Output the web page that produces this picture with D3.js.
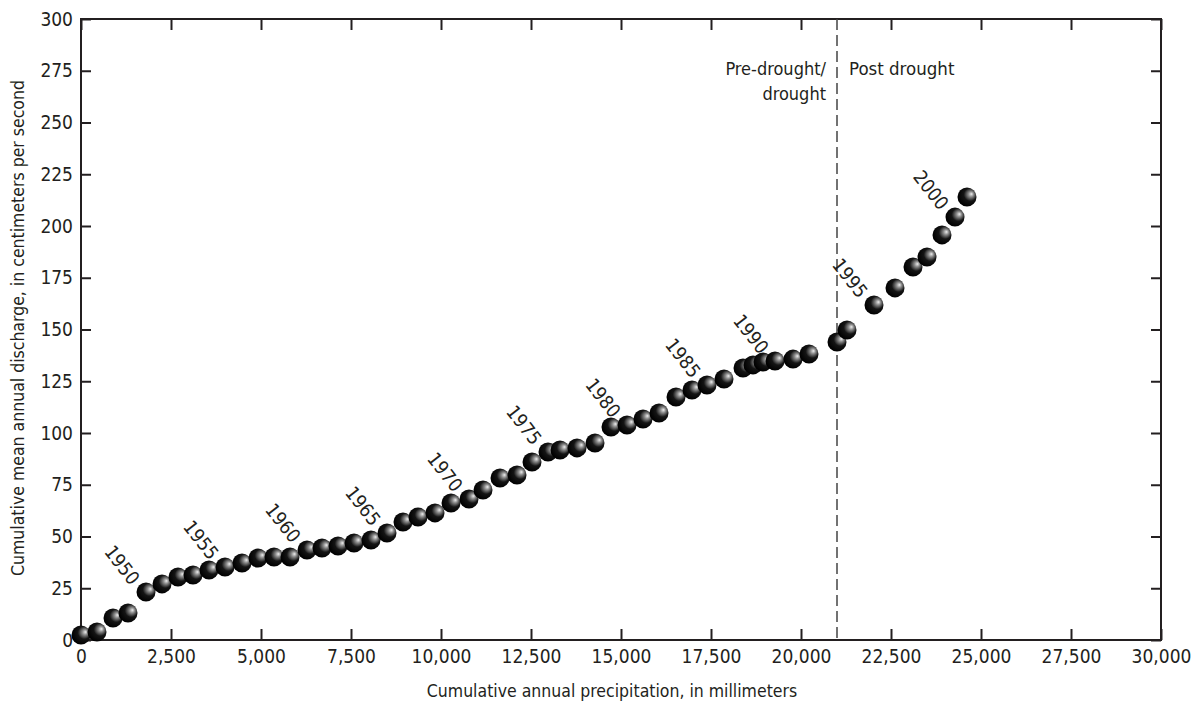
<!DOCTYPE html>
<html>
<head>
<meta charset="utf-8">
<script src="https://cdn.jsdelivr.net/npm/d3@7"></script>
<style>
  body { margin: 0; background: #fff; }
  svg text { font-family: "Liberation Sans Narrow", "DejaVu Sans Condensed", sans-serif; fill: #231f20; }
</style>
</head>
<body>
<script>
// cumulative annual precipitation (mm) and cumulative mean annual discharge, 1946-2001
const years = d3.range(1946, 2002);
const precip = [0, 444, 889, 1306, 1806, 2250, 2694, 3111, 3556, 4000,
  4472, 4917, 5361, 5806, 6278, 6694, 7139, 7583, 8056, 8500,
  8944, 9361, 9833, 10278, 10778, 11167, 11639, 12111, 12528, 12972,
  13306, 13778, 14278, 14722, 15167, 15611, 16056, 16528, 16972, 17389,
  17861, 18389, 18667, 18944, 19278, 19778, 20222, 21000, 21278, 22028,
  22611, 23111, 23500, 23917, 24278, 24611];
const discharge = [2.4, 3.9, 10.6, 13.0, 23.2, 27.1, 30.4, 31.4, 33.8, 35.3,
  37.2, 39.6, 40.1, 40.1, 43.5, 44.4, 45.4, 46.9, 48.3, 51.7,
  57.0, 59.4, 61.4, 66.2, 68.1, 72.5, 78.3, 79.7, 86.0, 90.8,
  91.8, 92.8, 95.2, 102.9, 103.9, 106.8, 109.7, 117.4, 120.8, 123.2,
  126.1, 131.4, 132.9, 134.3, 134.8, 135.7, 138.2, 144.0, 149.8, 161.8,
  170.1, 180.2, 185.0, 195.7, 204.3, 214.0];
const labelYears = [1950, 1955, 1960, 1965, 1970, 1975, 1980, 1985, 1990, 1995, 2000];
const droughtBreak = 21000;
const xTicks = d3.range(0, 30001, 2500);
const yTicks = d3.range(0, 301, 25);

const width = 1200, height = 704;
const margin = { top: 19, right: 39, bottom: 64, left: 81 };

const svg = d3.select('body').append('svg')
  .attr('width', width)
  .attr('height', height);

// dark ball marker with a soft highlight upper right
const grad = svg.append('defs').append('radialGradient')
  .attr('id', 'ball')
  .attr('cx', '0.62').attr('cy', '0.4').attr('r', '0.62')
  .attr('fx', '0.74').attr('fy', '0.34');
grad.append('stop').attr('offset', '0%').attr('stop-color', '#ededed');
grad.append('stop').attr('offset', '22%').attr('stop-color', '#8c8c8c');
grad.append('stop').attr('offset', '55%').attr('stop-color', '#141414');
grad.append('stop').attr('offset', '100%').attr('stop-color', '#000');

const x = d3.scaleLinear().domain([0, 30000]).range([margin.left, width - margin.right]);
const y = d3.scaleLinear().domain([0, 300]).range([height - margin.bottom, margin.top]);

// axes, ticks pointing inward on all four sides
svg.append('g')
  .attr('transform', `translate(0,${y(0)})`)
  .call(d3.axisBottom(x).tickValues(xTicks).tickFormat(d3.format(',')).tickSizeInner(-11).tickSizeOuter(0).tickPadding(10))
  .call(g => g.select('.domain').remove())
  .call(g => g.selectAll('text').style('font-size', '19px'));

svg.append('g')
  .attr('transform', `translate(${x(0)},0)`)
  .call(d3.axisLeft(y).tickValues(yTicks).tickSizeInner(-10).tickSizeOuter(0).tickPadding(8))
  .call(g => g.select('.domain').remove())
  .call(g => g.selectAll('text').style('font-size', '19px'));

svg.append('g')
  .attr('transform', `translate(0,${y(300)})`)
  .call(d3.axisTop(x).tickValues(xTicks).tickFormat('').tickSizeInner(-11).tickSizeOuter(0))
  .call(g => g.select('.domain').remove());

svg.append('g')
  .attr('transform', `translate(${x(30000)},0)`)
  .call(d3.axisRight(y).tickValues(yTicks).tickFormat('').tickSizeInner(-10).tickSizeOuter(0))
  .call(g => g.select('.domain').remove());

svg.selectAll('.tick line').attr('stroke', '#231f20').attr('stroke-width', 2);

svg.append('rect')
  .attr('x', x(0)).attr('y', y(300))
  .attr('width', x(30000) - x(0)).attr('height', y(0) - y(300))
  .attr('fill', 'none').attr('stroke', '#231f20').attr('stroke-width', 2);

// drought break line
svg.append('line')
  .attr('x1', x(droughtBreak)).attr('x2', x(droughtBreak))
  .attr('y1', y(300)).attr('y2', y(0))
  .attr('stroke', '#444').attr('stroke-width', 1.5)
  .attr('stroke-dasharray', '11,5');

svg.append('text')
  .attr('x', x(droughtBreak) - 11).attr('y', 75)
  .attr('text-anchor', 'end').style('font-size', '18px')
  .text('Pre-drought/');
svg.append('text')
  .attr('x', x(droughtBreak) - 11).attr('y', 100)
  .attr('text-anchor', 'end').style('font-size', '18px')
  .text('drought');
svg.append('text')
  .attr('x', x(droughtBreak) + 12).attr('y', 75)
  .style('font-size', '18.5px')
  .text('Post drought');

// points
const pts = years.map((yr, i) => ({ year: yr, p: precip[i], q: discharge[i] }));

svg.selectAll('circle.pt')
  .data(pts)
  .enter()
  .append('circle')
  .attr('class', 'pt')
  .attr('cx', d => x(d.p))
  .attr('cy', d => y(d.q))
  .attr('r', 9.5)
  .attr('fill', 'url(#ball)');

// year labels, rotated, up-left of their point
svg.selectAll('text.yr')
  .data(pts.filter(d => labelYears.includes(d.year)))
  .enter()
  .append('text')
  .attr('class', 'yr')
  .attr('transform', d => `translate(${x(d.p) - 24},${y(d.q) - 27}) rotate(52)`)
  .attr('text-anchor', 'middle')
  .attr('dy', '0.35em')
  .style('font-size', '19px')
  .text(d => d.year);

// axis titles
svg.append('text')
  .attr('x', 612).attr('y', 697)
  .attr('text-anchor', 'middle').style('font-size', '17.5px')
  .text('Cumulative annual precipitation, in millimeters');

svg.append('text')
  .attr('transform', `translate(24,328) rotate(-90)`)
  .attr('text-anchor', 'middle').style('font-size', '17.5px')
  .text('Cumulative mean annual discharge, in centimeters per second');
</script>
</body>
</html>
